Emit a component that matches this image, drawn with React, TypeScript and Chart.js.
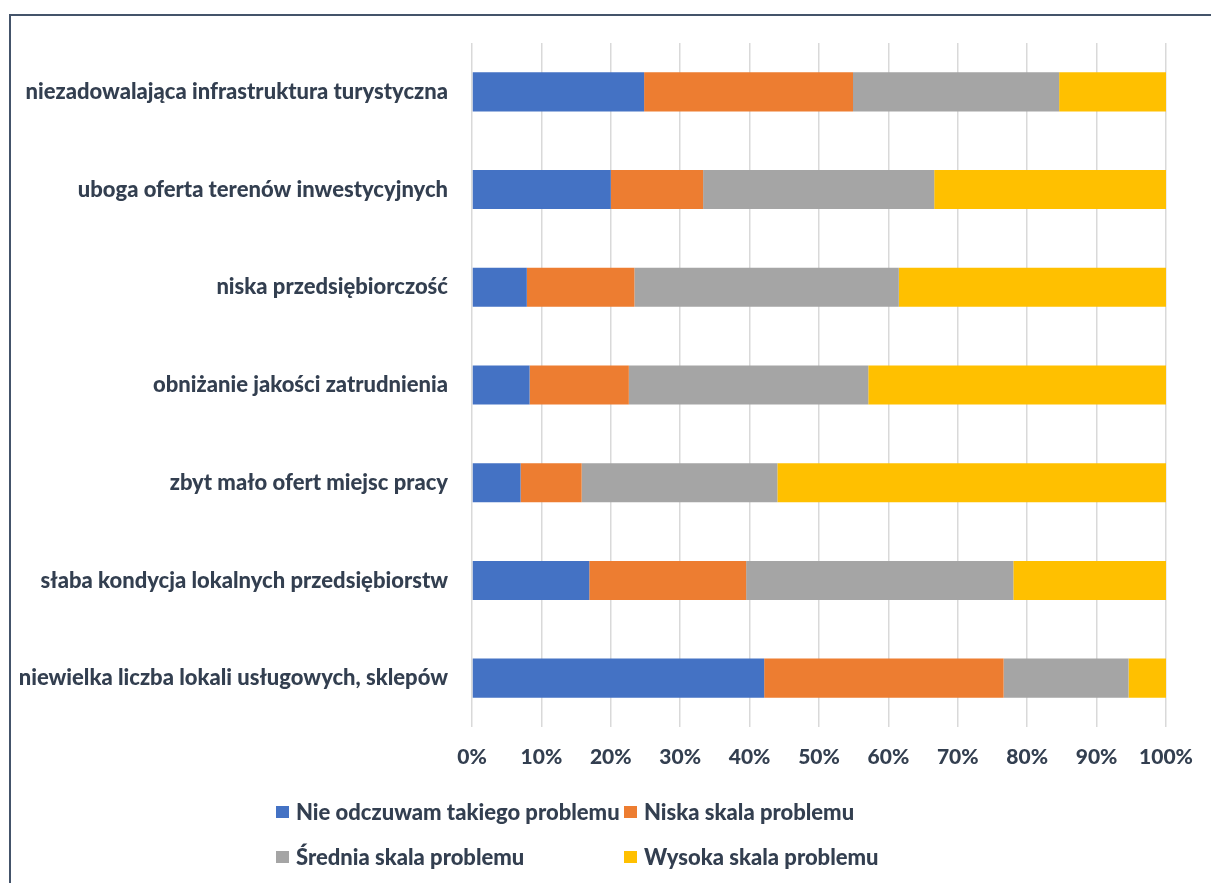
import React, { useEffect, useRef } from "react";
import { Chart, registerables } from "chart.js";

Chart.register(...registerables);

const categories = [
  "niezadowalająca infrastruktura turystyczna",
  "uboga oferta terenów inwestycyjnych",
  "niska przedsiębiorczość",
  "obniżanie jakości zatrudnienia",
  "zbyt mało ofert miejsc pracy",
  "słaba kondycja lokalnych przedsiębiorstw",
  "niewielka liczba lokali usługowych, sklepów",
];

const seriesNames = [
  "Nie odczuwam takiego problemu",
  "Niska skala problemu",
  "Średnia skala problemu",
  "Wysoka skala problemu",
];

const nieOdczuwam = [24.8, 20.0, 7.9, 8.3, 7.0, 16.9, 42.1];
const niskaSkala = [30.1, 13.3, 15.5, 14.3, 8.8, 22.6, 34.5];
const sredniaSkala = [29.7, 33.3, 38.1, 34.5, 28.2, 38.5, 18.0];
const wysokaSkala = [15.4, 33.4, 38.5, 42.9, 56.0, 22.0, 5.4];

const xTicks = [0, 10, 20, 30, 40, 50, 60, 70, 80, 90, 100];

const colors = ["#4472C4", "#ED7D31", "#A5A5A5", "#FFC000"];
const textColor = "#333F50";
const fontFamily = "Lato, 'Open Sans', sans-serif";

export default function App() {
  const canvasRef = useRef<HTMLCanvasElement | null>(null);

  useEffect(() => {
    if (!canvasRef.current) return;
    const values = [nieOdczuwam, niskaSkala, sredniaSkala, wysokaSkala];
    const chart = new Chart(canvasRef.current, {
      type: "bar",
      data: {
        labels: categories,
        datasets: values.map((v, i) => ({
          label: seriesNames[i],
          data: v,
          backgroundColor: colors[i],
          borderWidth: 0,
          categoryPercentage: 0.4,
          barPercentage: 1.0,
        })),
      },
      options: {
        indexAxis: "y",
        animation: false,
        responsive: false,
        maintainAspectRatio: false,
        layout: { padding: { top: 43, right: 45, left: 0, bottom: 96 } },
        plugins: {
          legend: { display: false },
          tooltip: { enabled: false },
        },
        scales: {
          x: {
            stacked: true,
            min: 0,
            max: 100,
            afterBuildTicks: (scale: any) => {
              scale.ticks = xTicks.map((v) => ({ value: v }));
            },
            afterFit: (scale: any) => {
              scale.height = 60;
            },
            ticks: {
              callback: (v: any) => v + "%",
              color: textColor,
              font: { family: fontFamily, size: 21, weight: "900" },
              padding: 18,
              maxRotation: 0,
            },
            grid: {
              color: "#D9D9D9",
              lineWidth: 1.5,
              drawTicks: false,
            },
            border: { display: false },
          },
          y: {
            stacked: true,
            afterFit: (scale: any) => {
              scale.width = 472;
            },
            ticks: {
              color: textColor,
              font: { family: fontFamily, size: 22, weight: "900" },
              padding: 24,
            },
            grid: { display: false, drawTicks: false },
            border: { display: false },
          },
        },
      },
    });
    return () => chart.destroy();
  }, []);

  const legendItem = (i: number) => (
    <div
      key={i}
      style={{ display: "flex", alignItems: "center", height: 45 }}
    >
      <span
        style={{
          display: "inline-block",
          width: 13,
          height: 12,
          background: colors[i],
          marginRight: 7,
        }}
      />
      <span
        style={{
          fontFamily,
          fontWeight: 900,
          fontSize: 22,
          color: textColor,
          whiteSpace: "nowrap",
        }}
      >
        {seriesNames[i]}
      </span>
    </div>
  );

  return (
    <div
      style={{
        position: "absolute",
        left: 0,
        top: 0,
        width: 1211,
        height: 883,
        overflow: "hidden",
        background: "#fff",
      }}
    >
      <div
        style={{
          position: "absolute",
          left: 9,
          top: 14,
          width: 1230,
          height: 900,
          border: "2px solid #44546A",
          boxSizing: "border-box",
        }}
      />
      <canvas
        ref={canvasRef}
        width={1211}
        height={883}
        style={{ position: "absolute", left: 0, top: 0, width: 1211, height: 883 }}
      />
      <div
        style={{
          position: "absolute",
          left: 276,
          top: 789,
          display: "grid",
          gridTemplateColumns: "348px auto",
        }}
      >
        {[0, 1, 2, 3].map((i) => legendItem(i))}
      </div>
    </div>
  );
}
